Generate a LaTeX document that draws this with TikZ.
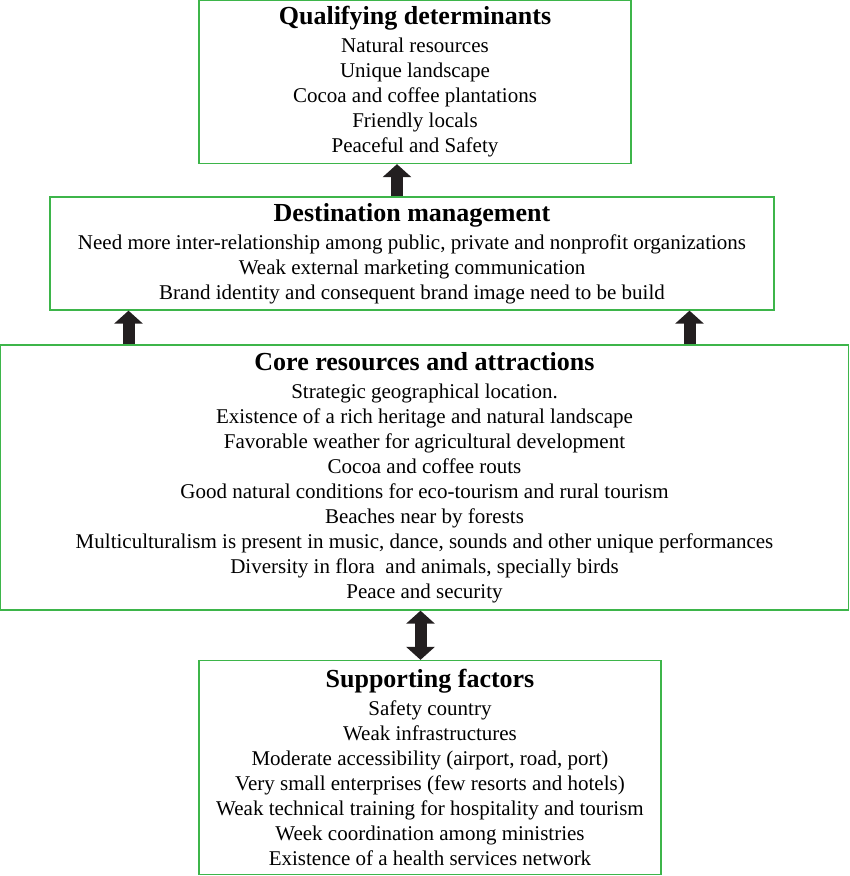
\documentclass[tikz,border=0pt]{standalone}
\usepackage{fontspec}
\setmainfont{Liberation Serif}
\usepackage{tikz}
\usetikzlibrary{arrows.meta}

\definecolor{boxgreen}{HTML}{3DB54A}
\definecolor{arrowdark}{HTML}{231F20}

\tikzset{
  box/.style={draw=boxgreen, line width=1.3pt, align=center, inner sep=0pt,
    font=\fontsize{21}{25}\selectfont},
  bigarrow/.style={draw=arrowdark, line width=12pt,
    -{Triangle[width=28pt,length=13pt]}},
  dblarrow/.style={draw=arrowdark, line width=12pt,
    {Triangle[width=28pt,length=13pt]}-{Triangle[width=28pt,length=13pt]}}
}
\newcommand{\boxhead}[1]{{\fontsize{26}{25}\selectfont\bfseries #1}\\[3pt]}

\begin{document}
\begin{tikzpicture}[x=1pt,y=-1pt]
\useasboundingbox (0,0) rectangle (850,876);
% boxes, top to bottom
\node[box, minimum width=432pt, minimum height=163pt] (qual) at (415,82)
  {\boxhead{Qualifying determinants}
   Natural resources\\ Unique landscape\\ Cocoa and coffee plantations\\
   Friendly locals\\ Peaceful and Safety};
\node[box, minimum width=724pt, minimum height=113pt] (mgmt) at (412,253.5)
  {\boxhead{Destination management}
   Need more inter-relationship among public, private and nonprofit organizations\\
   Weak external marketing communication\\
   Brand identity and consequent brand image need to be build};
\node[box, minimum width=848pt, minimum height=265pt] (core) at (424.5,477.5)
  {\boxhead{Core resources and attractions}
   Strategic geographical location.\\
   Existence of a rich heritage and natural landscape\\
   Favorable weather for agricultural development\\
   Cocoa and coffee routs\\
   Good natural conditions for eco-tourism and rural tourism\\
   Beaches near by forests\\
   Multiculturalism is present in music, dance, sounds and other unique performances\\
   Diversity in flora\ \ and animals, specially birds\\
   Peace and security};
\node[box, minimum width=462pt, minimum height=214pt] (supp) at (430,767.5)
  {\boxhead{Supporting factors}
   Safety country\\ Weak infrastructures\\
   Moderate accessibility (airport, road, port)\\
   Very small enterprises (few resorts and hotels)\\
   Weak technical training for hospitality and tourism\\
   Week coordination among ministries\\
   Existence of a health services network};
% arrows
\draw[bigarrow] ([xshift=-15pt]mgmt.north) -- ([xshift=-15pt]mgmt.north |- qual.south);
\draw[bigarrow] ([xshift=-296pt]core.north) -- ([xshift=-296pt]core.north |- mgmt.south);
\draw[bigarrow] ([xshift=265pt]core.north) -- ([xshift=265pt]core.north |- mgmt.south);
\draw[dblarrow] ([xshift=-4pt]core.south) -- ([xshift=-4pt]core.south |- supp.north);
\end{tikzpicture}
\end{document}
